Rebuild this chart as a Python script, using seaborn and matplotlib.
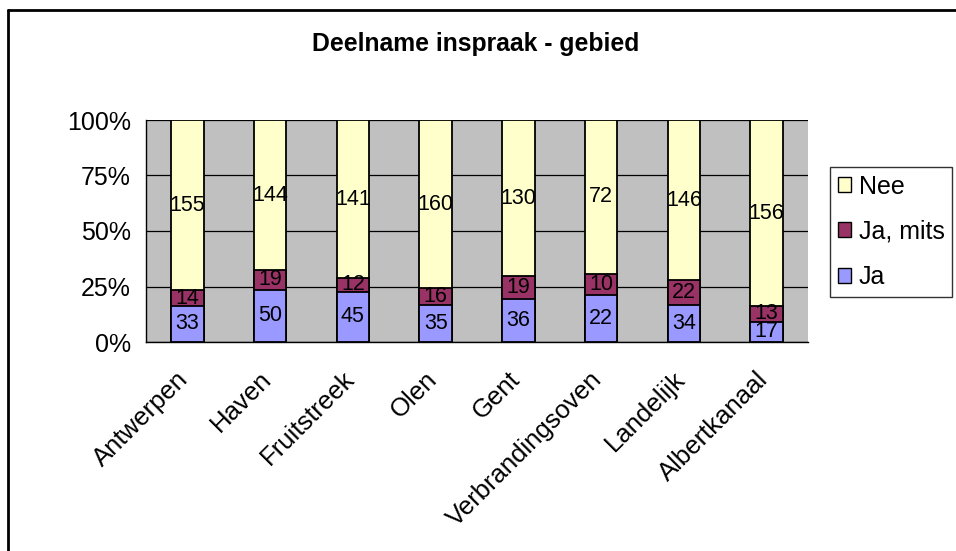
"""
Deelname inspraak per gebied - 100% stacked bars
"""

import numpy as np
import pandas as pd
import matplotlib
matplotlib.use("Agg")
import matplotlib.pyplot as plt
import matplotlib.lines as mlines
import matplotlib.transforms as mtransforms
from matplotlib.patches import Patch
import seaborn as sns

gebieden = ["Antwerpen", "Haven", "Fruitstreek", "Olen", "Gent",
            "Verbrandingsoven", "Landelijk", "Albertkanaal"]
ja = [33, 50, 45, 35, 36, 22, 34, 17]
ja_mits = [14, 19, 12, 16, 19, 10, 22, 13]
nee = [155, 144, 141, 160, 130, 72, 146, 156]

kleuren = {"Ja": "#9999FF", "Ja, mits": "#993366", "Nee": "#FFFFCC"}


def deelname_plot(out="out.png"):
    df = pd.DataFrame({"gebied": gebieden, "Ja": ja, "Ja, mits": ja_mits, "Nee": nee})
    totaal = df[["Ja", "Ja, mits", "Nee"]].sum(axis=1)
    df["p_ja"] = df["Ja"] / totaal * 100
    df["p_mits"] = df["Ja, mits"] / totaal * 100
    df["p_nee"] = df["Nee"] / totaal * 100
    df["cum_mits"] = df["p_ja"] + df["p_mits"]
    df["cum_nee"] = df["cum_mits"] + df["p_nee"]

    sns.set_style("white")
    plt.rcParams["font.family"] = ["Liberation Sans", "DejaVu Sans"]
    plt.rcParams.update({"text.color": "black", "xtick.color": "black",
                         "ytick.color": "black", "axes.labelcolor": "black"})

    fig = plt.figure(figsize=(9.56, 5.51), dpi=100)
    ax = fig.add_axes([146 / 956, 1 - 342 / 551, (808 - 146) / 956, (342 - 120) / 551])
    ax.set_facecolor("#C0C0C0")

    for kol, naam in [("cum_nee", "Nee"), ("cum_mits", "Ja, mits"), ("p_ja", "Ja")]:
        sns.barplot(data=df, x="gebied", y=kol, color=kleuren[naam], width=0.39,
                    edgecolor="black", linewidth=1.3, saturation=1, ax=ax, zorder=3)

    # waarden in het midden van elk segment
    for i, r in df.iterrows():
        ax.text(i, r["p_ja"] / 2, str(r["Ja"]), ha="center", va="center", fontsize=15.5, zorder=5)
        ax.text(i, r["p_ja"] + r["p_mits"] / 2, str(r["Ja, mits"]), ha="center", va="center",
                fontsize=15.5, zorder=5)
        ax.text(i, r["cum_mits"] + r["p_nee"] / 2, str(r["Nee"]), ha="center", va="center",
                fontsize=15.5, zorder=5)

    ax.set_ylim(0, 100)
    ax.set_xlim(-0.5, len(gebieden) - 0.5)
    ax.set_yticks([0, 25, 50, 75, 100])
    ax.set_yticklabels(["0%", "25%", "50%", "75%", "100%"], fontsize=18)
    ax.yaxis.grid(True, color="black", linewidth=0.9, zorder=0)
    ax.set_axisbelow(True)
    ax.set_xlabel("")
    ax.set_ylabel("")

    ax.set_xticks(np.arange(len(gebieden)))
    ax.set_xticklabels(gebieden, rotation=45, ha="right", rotation_mode="anchor", fontsize=18.5)
    ax.tick_params(axis="x", which="major", length=0, pad=18)
    verschuif = mtransforms.ScaledTranslation(-11 / 100, 0, fig.dpi_scale_trans)
    for lbl in ax.get_xticklabels():
        lbl.set_transform(lbl.get_transform() + verschuif)
    ax.set_xticks(np.arange(-0.5, len(gebieden)), minor=True)
    ax.tick_params(axis="x", which="minor", length=7, width=1, color="black", direction="out")
    ax.tick_params(axis="y", length=8, width=1, color="black", direction="out", pad=3)

    for kant in ["top", "right"]:
        ax.spines[kant].set_visible(False)
    for kant in ["left", "bottom"]:
        ax.spines[kant].set_color("black")
        ax.spines[kant].set_linewidth(1)

    fig.text(0.498, 1 - 44 / 551, "Deelname inspraak - gebied", ha="center", va="center",
             fontsize=17.8, fontweight="bold")

    handles = [Patch(facecolor=kleuren[n], edgecolor="black", label=n)
               for n in ["Nee", "Ja, mits", "Ja"]]
    leg = fig.legend(handles=handles, loc="upper left", bbox_to_anchor=(830 / 956, 1 - 167 / 551),
                     fontsize=18, frameon=True, fancybox=False, edgecolor="black",
                     handlelength=0.55, handleheight=0.55, handletextpad=0.3,
                     labelspacing=0.85, borderpad=0.3, borderaxespad=0)
    leg.get_frame().set_linewidth(1)

    # rand rond de grafiek (boven en links)
    fig.add_artist(mlines.Line2D([8 / 956, 1], [1 - 10 / 551, 1 - 10 / 551], color="black",
                                 linewidth=2, transform=fig.transFigure))
    fig.add_artist(mlines.Line2D([8 / 956, 8 / 956], [0, 1 - 10 / 551], color="black",
                                 linewidth=2, transform=fig.transFigure))

    fig.savefig(out, dpi=100)


if __name__ == "__main__":
    deelname_plot()
